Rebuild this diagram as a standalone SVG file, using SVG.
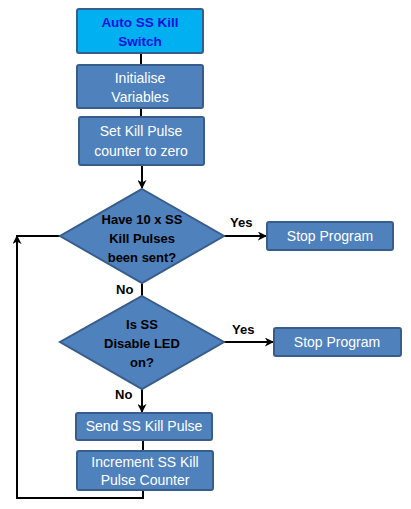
<svg xmlns="http://www.w3.org/2000/svg" width="411" height="509" viewBox="0 0 411 509">
<style>
.box{fill:#4F81BD;stroke:#385D8A;stroke-width:2}
.start{fill:#00B0F0;stroke:#385D8A;stroke-width:2}
.t{font-family:"Liberation Sans",Arial,sans-serif;font-size:14px;fill:#fff;text-anchor:middle}
.st{font-family:"Liberation Sans",Arial,sans-serif;font-size:13.5px;font-weight:bold;fill:#1010E0;text-anchor:middle}
.d{font-family:"Liberation Sans",Arial,sans-serif;font-size:13px;font-weight:bold;fill:#000;text-anchor:middle}
.lbl{font-family:"Liberation Sans",Arial,sans-serif;font-size:13px;font-weight:bold;fill:#000}
.c{fill:none;stroke:#000;stroke-width:2}
</style>
<defs>
<marker id="ar" viewBox="0 0 10 10" refX="9" refY="5" markerWidth="9" markerHeight="9" orient="auto" markerUnits="userSpaceOnUse">
<path d="M0,0 L10,5 L0,10 L3,5 z" fill="#000"/>
</marker>
</defs>
<rect width="411" height="509" fill="#fff"/>
<g id="connectors">
<line class="c" x1="141" y1="53" x2="141" y2="65"/>
<line class="c" x1="141" y1="108" x2="141" y2="117"/>
<line class="c" x1="142" y1="165" x2="142" y2="188" marker-end="url(#ar)"/>
<line class="c" x1="224" y1="236" x2="266" y2="236" marker-end="url(#ar)"/>
<line class="c" x1="142" y1="283" x2="142" y2="297"/>
<line class="c" x1="224" y1="342" x2="273" y2="342" marker-end="url(#ar)"/>
<line class="c" x1="142" y1="389" x2="142" y2="412" marker-end="url(#ar)"/>
<line class="c" x1="143" y1="440" x2="143" y2="451"/>
<polyline class="c" points="143,490 143,498 17,498 17,236" marker-end="url(#ar)"/>
<line class="c" x1="16" y1="236" x2="60" y2="236"/>
</g>
<g id="n1">
<rect class="start" x="77" y="9" width="126" height="44" rx="2"/>
<text class="st" x="140" y="27">Auto SS Kill</text>
<text class="st" x="140" y="46">Switch</text>
</g>
<g id="n2">
<rect class="box" x="77" y="65" width="126" height="43" rx="2"/>
<text class="t" x="140" y="83">Initialise</text>
<text class="t" x="140" y="102">Variables</text>
</g>
<g id="n3">
<rect class="box" x="79" y="117" width="125" height="48" rx="2"/>
<text class="t" x="141" y="136">Set Kill Pulse</text>
<text class="t" x="141" y="156">counter to zero</text>
</g>
<g id="d1">
<polygon class="box" points="142,189 224,236 142,283 60,236"/>
<text class="d" x="142" y="224">Have 10 x SS</text>
<text class="d" x="142" y="243">Kill Pulses</text>
<text class="d" x="142" y="262">been sent?</text>
</g>
<g id="s1">
<rect class="box" x="267" y="222" width="126" height="28" rx="2"/>
<text class="t" x="330" y="241">Stop Program</text>
</g>
<text class="lbl" x="230" y="227">Yes</text>
<text class="lbl" x="116" y="294">No</text>
<g id="d2">
<polygon class="box" points="142,296 224,342 142,389 60,342"/>
<text class="d" x="142" y="329">Is SS</text>
<text class="d" x="142" y="348">Disable LED</text>
<text class="d" x="142" y="367">on?</text>
</g>
<g id="s2">
<rect class="box" x="274" y="328" width="127" height="28" rx="2"/>
<text class="t" x="337" y="347">Stop Program</text>
</g>
<text class="lbl" x="232" y="334">Yes</text>
<text class="lbl" x="115" y="399">No</text>
<g id="n4">
<rect class="box" x="76" y="413" width="136" height="27" rx="2"/>
<text class="t" x="144" y="431">Send SS Kill Pulse</text>
</g>
<g id="n5">
<rect class="box" x="77" y="451" width="136" height="39" rx="2"/>
<text class="t" x="145" y="467">Increment SS Kill</text>
<text class="t" x="145" y="485">Pulse Counter</text>
</g>
</svg>
